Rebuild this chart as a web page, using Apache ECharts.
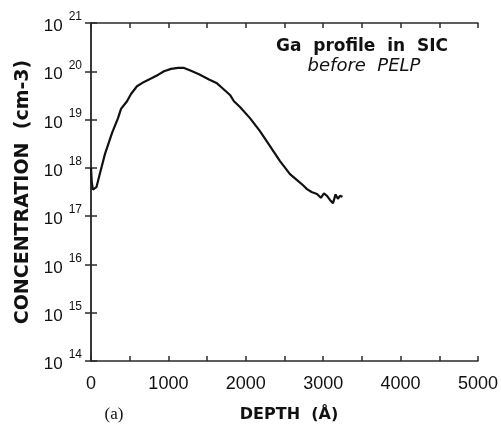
<!DOCTYPE html>
<html><head><meta charset="utf-8">
<script src="https://cdn.jsdelivr.net/npm/echarts@6/dist/echarts.min.js"></script>
<style>html,body{margin:0;padding:0;background:#fff}#c{width:501px;height:430px}</style>
</head><body><div id="c"></div>
<script>
// Depth in Angstrom
const depth = [0, 10, 25, 45, 70, 116, 181, 271, 349, 388, 465, 517, 594, 685, 788, 870, 943, 1034, 1124, 1202, 1292, 1395, 1525, 1628, 1692, 1796, 1847, 1925, 2054, 2183, 2313, 2442, 2571, 2674, 2740, 2791, 2850, 2920, 2970, 3010, 3049, 3090, 3127, 3160, 3190, 3217, 3250];
// log10 of concentration (cm-3)
const logConc = [18.0, 17.7, 17.55, 17.52, 17.6, 17.89, 18.29, 18.72, 19.03, 19.22, 19.38, 19.53, 19.69, 19.78, 19.86, 19.93, 20.0, 20.05, 20.07, 20.07, 20.01, 19.94, 19.83, 19.75, 19.66, 19.51, 19.38, 19.26, 19.03, 18.76, 18.45, 18.14, 17.87, 17.73, 17.64, 17.56, 17.5, 17.46, 17.38, 17.47, 17.42, 17.33, 17.27, 17.45, 17.36, 17.42, 17.4];
const xTickLabels = [0, 1000, 2000, 3000, 4000, 5000];
const yExponents = [14, 15, 16, 17, 18, 19, 20, 21];
const titleLines = ['Ga  profile  in  SIC', 'before  PELP'];
const xName = 'DEPTH  (Å)';
const yName = 'CONCENTRATION  (cm-3)';
const panelLabel = '(a)';

const seriesData = depth.map((d, i) => [d, Math.pow(10, logConc[i])]);
const FONT = '"Liberation Sans", Arial, Helvetica, sans-serif';
const WIDE = '"DejaVu Sans", Verdana, sans-serif';
const lineStyle = {color: '#2a2a2a', width: 1.5};

const chart = echarts.init(document.getElementById('c'), null, {renderer: 'canvas'});
chart.setOption({
  animation: false,
  backgroundColor: '#fff',
  grid: {left: 91, right: 23, top: 23, bottom: 69, containLabel: false},
  xAxis: [{
    type: 'value', min: xTickLabels[0], max: xTickLabels[xTickLabels.length - 1], interval: 1000,
    axisLine: {show: true, lineStyle: lineStyle},
    axisTick: {show: true, inside: true, length: 5, lineStyle: lineStyle},
    minorTick: {show: true, splitNumber: 2, length: 5, lineStyle: lineStyle},
    splitLine: {show: false},
    axisLabel: {fontFamily: FONT, fontSize: 18, color: '#111', margin: 14, formatter: v => String(v)}
  }, {
    type: 'value', position: 'top', min: 0, max: 5000, interval: 1000,
    axisLine: {show: true, lineStyle: lineStyle},
    axisTick: {show: true, inside: true, length: 5, lineStyle: lineStyle},
    minorTick: {show: true, splitNumber: 2, length: 5, lineStyle: lineStyle},
    splitLine: {show: false}, axisLabel: {show: false}
  }],
  yAxis: [{
    type: 'log', logBase: 10, min: Math.pow(10, yExponents[0]), max: Math.pow(10, yExponents[yExponents.length - 1]),
    interval: 1,
    axisLine: {show: true, lineStyle: lineStyle},
    axisTick: {show: true, inside: true, length: 6, lineStyle: lineStyle},
    minorTick: {show: false},
    splitLine: {show: false},
    axisLabel: {
      margin: 9,
      formatter: v => '{b|10}{s|' + Math.round(Math.log10(v)) + '}',
      rich: {
        b: {fontFamily: FONT, fontSize: 17, color: '#111', lineHeight: 24, verticalAlign: 'bottom', padding: [0, 6, 0, 0]},
        s: {fontFamily: FONT, fontSize: 12, color: '#111', lineHeight: 24, verticalAlign: 'top'}
      }
    },
    name: yName, nameLocation: 'middle', nameGap: 55, nameRotate: 90,
    nameTextStyle: {fontFamily: WIDE, fontSize: 19, fontWeight: 'bold', color: '#111'}
  }, {
    type: 'log', logBase: 10, position: 'right', min: 1e14, max: 1e21, interval: 1,
    axisLine: {show: true, lineStyle: lineStyle},
    axisTick: {show: true, inside: true, length: 6, lineStyle: lineStyle},
    splitLine: {show: false}, axisLabel: {show: false}
  }],
  graphic: [
    {type: 'text', x: 362, y: 47, style: {text: titleLines[0], font: 'bold 17px ' + WIDE, fill: '#111', align: 'center', verticalAlign: 'middle'}},
    {type: 'text', x: 364, y: 66, style: {text: titleLines[1], font: 'oblique 18px ' + WIDE, fill: '#111', align: 'center', verticalAlign: 'middle'}},
    {type: 'text', x: 289, y: 415, style: {text: xName, font: 'bold 16px ' + WIDE, fill: '#111', align: 'center', verticalAlign: 'middle'}},
    {type: 'text', x: 114, y: 415, style: {text: panelLabel, font: '17px "Liberation Serif", "Times New Roman", serif', fill: '#111', align: 'center', verticalAlign: 'middle'}}
  ],
  series: [{
    type: 'line', xAxisIndex: 0, yAxisIndex: 0, data: seriesData,
    showSymbol: false, symbol: 'none', smooth: false,
    lineStyle: {color: '#111', width: 2.2}
  }]
});
</script></body></html>
